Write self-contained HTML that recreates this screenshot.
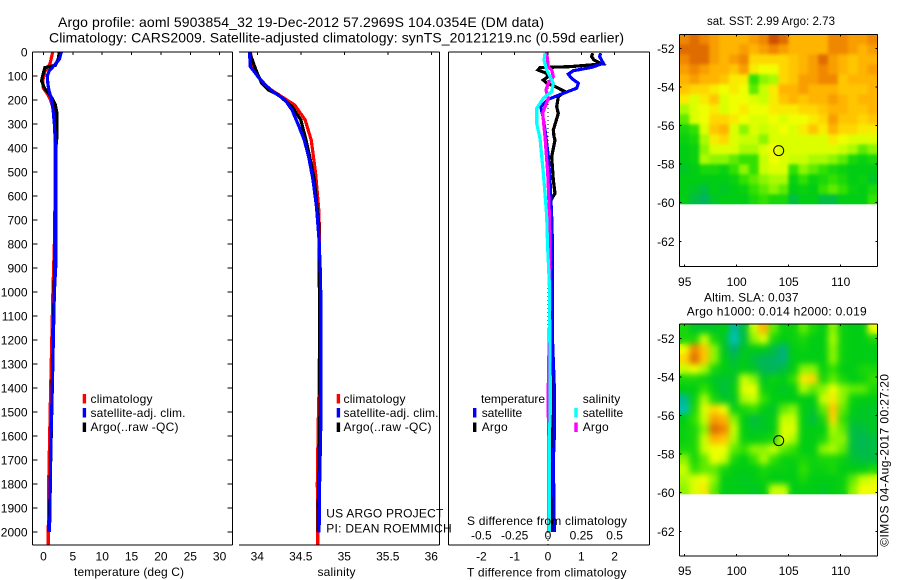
<!DOCTYPE html>
<html>
<head>
<meta charset="utf-8">
<title>Argo profile</title>
<style>
html,body{margin:0;padding:0;background:#fff;}
svg{display:block;font-family:"Liberation Sans",sans-serif;font-size:12px;fill:#000;}
.ax{stroke:#000;stroke-width:1;shape-rendering:crispEdges;fill:none;}
.ln{fill:none;stroke-width:3.2;stroke-linejoin:miter;shape-rendering:crispEdges;}
.t14{font-size:14px;}
</style>
</head>
<body>
<svg id="chart" xmlns="http://www.w3.org/2000/svg" width="900" height="580" viewBox="0 0 900 580">
<defs>
<filter id="softSst" x="0" y="0" width="100%" height="100%" color-interpolation-filters="sRGB"><feGaussianBlur in="SourceGraphic" stdDeviation="1.6" result="b"/><feMerge><feMergeNode in="SourceGraphic"/><feMergeNode in="b"/></feMerge></filter>
<filter id="softSla" x="0" y="0" width="100%" height="100%" color-interpolation-filters="sRGB"><feGaussianBlur in="SourceGraphic" stdDeviation="3.2" result="b"/><feMerge><feMergeNode in="SourceGraphic"/><feMergeNode in="b"/></feMerge></filter>
</defs>
<rect width="900" height="580" fill="#fff"/>
<text class="t14" x="58" y="27" textLength="486">Argo profile: aoml 5903854_32 19-Dec-2012 57.2969S 104.0354E (DM data)</text>
<text class="t14" x="49" y="42.5" textLength="575">Climatology: CARS2009. Satellite-adjusted climatology: synTS_20121219.nc (0.59d earlier)</text>

<g id="mapSst"></g>
<g id="mapSla"></g>
<g id="p1"></g>
<g id="p2"></g>
<g id="p3"></g>

<text x="74" y="576" textLength="110">temperature (deg C)</text>
<text x="317.5" y="576" textLength="38">salinity</text>
<text x="467" y="576.5" textLength="159.5">T difference from climatology</text>
<text x="467" y="525" textLength="160">S difference from climatology</text>

<g>
<rect x="82.7" y="394" width="3.4" height="9.5" fill="#f00"/>
<rect x="82.7" y="408" width="3.4" height="9.5" fill="#00f"/>
<rect x="82.7" y="422.5" width="3.4" height="9.5" fill="#000"/>
<text x="90.5" y="402.8" textLength="62">climatology</text>
<text x="90.5" y="417" textLength="95">satellite-adj. clim.</text>
<text x="90.5" y="431" textLength="88">Argo(..raw -QC)</text>
</g>
<g>
<rect x="336.7" y="394" width="3.4" height="9.5" fill="#f00"/>
<rect x="336.7" y="408" width="3.4" height="9.5" fill="#00f"/>
<rect x="336.7" y="422.5" width="3.4" height="9.5" fill="#000"/>
<text x="343.5" y="402.8" textLength="62">climatology</text>
<text x="343.5" y="417" textLength="95">satellite-adj. clim.</text>
<text x="343.5" y="431" textLength="88">Argo(..raw -QC)</text>
</g>
<text x="326.3" y="517.7" textLength="117">US ARGO PROJECT</text>
<text x="326.3" y="532.3" textLength="125.4">PI: DEAN ROEMMICH</text>
<g>
<text x="481" y="402.8" textLength="64">temperature</text>
<text x="582.7" y="402.8" textLength="37.5">salinity</text>
<rect x="473" y="408" width="3.4" height="9.5" fill="#00f"/>
<rect x="473" y="422.5" width="3.4" height="9.5" fill="#000"/>
<rect x="574.3" y="408" width="3.4" height="9.5" fill="#0ff"/>
<rect x="574.3" y="422.5" width="3.4" height="9.5" fill="#f0f"/>
<text x="481.7" y="417" textLength="40.5">satellite</text>
<text x="481.7" y="431" textLength="26">Argo</text>
<text x="582.7" y="417" textLength="40.5">satellite</text>
<text x="582.7" y="431" textLength="26">Argo</text>
</g>
<text x="707" y="25" textLength="128" font-size="11.5">sat. SST: 2.99 Argo: 2.73</text>
<text x="704" y="301.7" textLength="94.5">Altim. SLA: 0.037</text>
<text x="686.7" y="315.7" textLength="180">Argo h1000: 0.014 h2000: 0.019</text>
<text transform="translate(888.5,546.7) rotate(-90)" textLength="172.7">©IMOS 04-Aug-2017 00:27:20</text>
</svg>
<script>
// ---------- chart data ----------
const depthTicks = [0,100,200,300,400,500,600,700,800,900,1000,1100,1200,1300,1400,1500,1600,1700,1800,1900,2000];
const tempTicks = [0,5,10,15,20,25,30];
const salTicks = [34,34.5,35,35.5,36];
const salTickLabels = ['34','34.5','35','35.5','36'];
const tDiffTicks = [-2,-1,0,1,2];
const tDiffLabels = ['-2','-1','0','1','2'];
const sDiffTicks = [-0.5,-0.25,0,0.25,0.5];
const sDiffLabels = ['-0.5','-0.25','0','0.25','0.5'];
const lonTicks = [95,100,105,110];
const latTicks = [-52,-54,-56,-58,-60,-62];
const profileLon = 104.04;
const profileLat = -57.3;

const climTempDepth = [0,50,80,120,150,180,200,250,300,400,600,700,800,1000,1400,1600,1800,2000,2054];
const climTemp = [1.57,1.1,0.25,-0.14,-0.03,0.8,1.2,1.85,1.97,2.0,2.0,1.9,1.85,1.6,1.22,1.05,0.88,0.82,0.82];
const satTempDepth = [0,30,60,80,100,130,160,200,250,300,400,600,900,1000,1400,1600,1800,1920,2000];
const satTemp = [3.04,2.7,1.67,0.94,0.65,0.73,0.92,1.4,1.67,1.85,2.07,2.07,2.07,1.85,1.5,1.28,1.15,1.1,1.0];
const argoTempDepth = [0,30,55,60,65,90,120,150,170,190,220,250,350,400,610,700,850,1000,1500,1900,2000];
const argoTemp = [2.7,2.5,2.05,1.2,0.25,-0.05,-0.33,0.15,0.8,1.4,2.0,2.25,2.3,2.1,2.1,1.95,1.95,1.8,1.4,1.05,0.95];

const climSalDepth = [0,61,100,151,186,221,283,367,505,672,1033,1400,1550,1800,2054];
const climSal = [33.92,33.95,34.0,34.13,34.28,34.43,34.55,34.62,34.67,34.71,34.72,34.71,34.7,34.69,34.695];
const satSalDepth = [0,61,89,130,165,200,242,311,367,436,533,644,783,922,1033,1370,1547,1783,2003];
const satSal = [33.91,33.92,33.98,34.07,34.18,34.32,34.4,34.48,34.54,34.59,34.64,34.68,34.71,34.725,34.73,34.73,34.73,34.717,34.71];
const argoSalDepth = [0,61,89,130,158,178,228,283,367,433,533,728,1500,1900,2000];
const argoSal = [33.91,33.97,34.0,34.05,34.13,34.24,34.4,34.5,34.56,34.6,34.655,34.71,34.72,34.7,34.7];

const argoDtDepth = [5,19,33,50,61,65,75,89,103,117,130,144,165,186,228,256,325,353,367,436,533,589,617,700,1000,1550,1900,2000];
const argoDt = [1.34,1.31,1.38,1.61,0.66,-0.24,-0.3,-0.04,0,-0.14,-0.04,0.21,0.51,0.31,0.26,0.31,0.16,0.18,0.21,0.11,0.16,0.21,0.09,0.06,0.08,0.09,0.11,0.11];
const satDtDepth = [5,19,47,64,78,92,110,130,151,172,197,228,262,325,436,533,686,783,1180,1400,1600,1700,1800,2000];
const satDt = [1.58,1.55,1.66,1.31,0.76,0.61,0.71,0.91,0.86,0.46,0.01,-0.22,-0.16,-0.09,0.01,0.06,0.11,0.13,0.13,0.19,0.19,0.16,0.17,0.19];
const argoDsDepth = [0,61,75,103,130,158,193,255,353,505,630,800,1000,1400,1500,1600,2000];
const argoDs = [-0.01,0.002,0.028,0.04,0.002,-0.015,0.002,-0.04,-0.0225,-0.002,0.0075,0.015,0.015,0.002,0.002,0.005,0.005];
const satDsDepth = [5,33,75,130,165,193,235,297,360,505,644,686,811,964,1400,1500,1600,2000];
const satDs = [-0.0225,-0.03,-0.01,0.04,0.028,-0.035,-0.085,-0.085,-0.06,-0.035,-0.015,-0.01,-0.003,0.01,0.017,0.017,0.01,0.01];

// Heatmap colour levels, 20 columns x 17 rows, north to south
const sstLevels = [
[8,8.5,8,7.5,7,7,7,7.5,8,9,8.5,7,7,7,7,8,8,7.5,7.5,8],
[8.5,8.5,8.5,7.5,7,7,7.5,7,7.5,8,7.5,7,7,7,7,8,8,7.5,7,7.5],
[8,8.5,8.5,7.5,7,7.5,8,6,6,6,6,6.5,7,7.5,8.5,7.5,7,6.5,7,7],
[7.5,8,7.5,7,7,6.5,7.5,5.5,5,5,6,6.5,7,7.5,8,7.5,7,6.5,7,7.5],
[7,7.5,7,7,6.5,5.5,5.5,2,3,3.5,6,6.5,7.5,7.5,8,8,6.5,7,7,7],
[6.5,6,6,5.5,5,5.5,5,2.5,4,5.5,7,7,7.5,7,7,7,6.5,6.5,6.5,7],
[5.5,4.5,5.5,6.5,4.5,5,5,4.5,4,5.5,6.5,7,6.5,7,7,7.5,7,6.5,7,7],
[3.5,4.5,5,5.5,4.5,5,5.5,5,5,5.5,5.5,5.5,6,6,6.5,7,7,6.5,6.5,7],
[2.5,4.5,5,6,6,5.5,5,4.5,4.5,5,4.5,5,5,5.5,6,7.5,6.5,6.5,6,6.5],
[1.5,2,4.5,6.5,7,4.5,3,4.5,4,4.5,5,4.5,5.5,6.5,5.5,7,6,6,5.5,5.5],
[1.2,1.5,3.5,5.5,6,4.5,4,4,3,4.5,4.5,4.5,4.5,4.5,4.5,5.5,5,4.5,4.5,4.5],
[1,1.2,3,4.5,4.5,4.5,3.5,3.5,4.5,5,4.5,4.5,4.5,4.5,4.5,4.5,4,3.5,2.5,3],
[1,1.2,3.5,3,3,2.5,2,2,4,5,4.5,4,4,3.5,3.5,3,2.5,1.5,1.2,1.5],
[0.8,1,1.5,1.5,1.2,2,3,2,4,4.5,4.5,2,3,2.5,2,1.5,1.2,1,1,1],
[1,1,1,1,1,1.2,2,2.5,3,3.5,3.5,1.2,2,1.2,1.5,2,1.5,1,1.2,0.8],
[1,0.8,0.5,1,0.8,1,1.2,2,2.5,3,2.5,1,1.2,1,2,2.5,2,1.2,1,1.5],
[1,0.5,0.2,0.8,1,1,1,1.5,2,1.5,1.5,0.5,1,1,0.5,0.5,1,1,1,2]
];
const slaLevels = [
[1.5,0.8,0.8,0.8,1,-0.4,0.5,4,7,2.5,1.2,1.2,2.5,1.5,1,3,1.2,1,1,5],
[1.5,1.5,4,1.5,0.8,-0.7,0.5,3,4.5,1.5,1,1.2,1.5,1,1,3.5,1.2,1,1,1.5],
[5,8,6.5,3,0.8,0,0.8,1,1,0.5,-0.1,1,1.2,1,1,3,1.2,1,1,1],
[6,8.5,6.5,3,1,0.5,1,0.5,0.2,0.2,-0.1,1,1,1,1,3,1.2,1,1,1],
[4,5,3.5,1.5,1,0.8,1,0.8,0.3,0.2,0.5,1,3,3,1.2,2,1,1,1.5,1.5],
[1.5,1.5,1.2,0.8,0.7,0.8,4,3,0.8,1.2,1,2,5.5,6,1.5,2.5,1.5,1,1.2,2],
[1,1,2,1,0.5,1,4.5,5,1.2,1,0.8,1,3.5,2.5,3,5,3,2.5,2.5,1.5],
[-0.3,1.2,3.5,1.5,0.8,0.8,3.5,4,2,1,1,1,1,1,4,5.5,3,1.2,1,1],
[-0.6,1.5,4.5,6,5,1.2,1.5,2,1,0.8,2.5,3,1,0.8,2.5,6.5,2.5,1,0.8,0.8],
[1,2,4,7.5,7,3,1,0.5,0.8,1,4,4,1,0.5,1.5,6,2,0.8,0.8,0.8],
[1.2,1.5,3,8.5,8,4,1,0.8,0.8,1,4.5,4.5,1,1,1,3.5,2.5,0.5,0.5,0.8],
[1.2,1.5,4,7,6.5,3.5,1.2,1,1.2,1.5,4.5,3.5,1,1,1.5,3,3,0.5,0.3,0.5],
[1.5,1.5,4,5,5,2.5,2,3,3,4,2.5,2,1,1,3,3.5,2.5,0.5,0.3,0.5],
[3,1.5,2.5,5,4,1.5,1,2,3.5,2,1.2,1.2,1.5,1.2,1.5,1.5,1.2,0.7,0.5,0.5],
[4,2,2.5,2.5,1.5,1,1,1,1.5,1.2,1.2,1,2,1.2,1.2,1.5,1,1,1,1.5],
[3.5,4.5,5,3,1,1,0.8,1,1.2,1,1,1,1.5,1,1,1,1.2,2.5,4,4.5],
[3,4.5,5.5,2.5,1,1,1,0.8,1,4,4,1,1,1,0.8,1,1.2,3,5,5]
];

// ---------- axis functions ----------
const NS = 'http://www.w3.org/2000/svg';
function depthY(d){ return 52 + d * 0.24; }
function tempX(t){ return 43.5 + t * 5.87; }
function salX(s){ return 257.3 + (s - 34) * 87; }
function dtX(t){ return 548 + t * 33.3; }
function dsX(s){ return 548 + s * 133.3; }

function make(parent, tag, attrs){
  const el = document.createElementNS(NS, tag);
  for (const k in attrs) el.setAttribute(k, attrs[k]);
  parent.appendChild(el);
  return el;
}
function axisLine(parent, x1, y1, x2, y2){
  const el = make(parent, 'line', {x1: x1, y1: y1, x2: x2, y2: y2, class: 'ax'});
  
  
  return el;
}
function tick(parent, x1, y1, x2, y2){
  const el = make(parent, 'line', {x1: x1, y1: y1, x2: x2, y2: y2, class: 'ax'});
  
  
  return el;
}
function label(parent, x, y, s, anchor){
  const el = make(parent, 'text', {x: x, y: y, 'text-anchor': anchor});
  el.textContent = s;
  
  
  return el;
}
function series(parent, depths, values, xf, color, name){
  const pts = depths.map(function(d, i){ return xf(values[i]).toFixed(2) + ',' + depthY(d).toFixed(2); }).join(' ');
  const el = make(parent, 'polyline', {points: pts, class: 'ln', stroke: color});
  
  
  return el;
}

// ---------- temperature panel ----------
const p1 = document.getElementById('p1');
series(p1, climTempDepth, climTemp, tempX, '#f00', 'temperature-climatology-line');
series(p1, argoTempDepth, argoTemp, tempX, '#000', 'temperature-argo-line');
series(p1, satTempDepth, satTemp, tempX, '#00f', 'temperature-satellite-line');
axisLine(p1, 32.5, 52, 232.5, 52);
axisLine(p1, 32.5, 545, 232.5, 545);
axisLine(p1, 32.5, 52, 32.5, 545);
axisLine(p1, 232.5, 52, 232.5, 545);
depthTicks.forEach(function(d){
  tick(p1, 32.5, depthY(d), 37.5, depthY(d));
  tick(p1, 227.5, depthY(d), 232.5, depthY(d));
  label(p1, 27.5, depthY(d) + 4.5, String(d), 'end');
});
tempTicks.forEach(function(t){
  tick(p1, tempX(t), 52, tempX(t), 55);
  label(p1, tempX(t), 560.5, String(t), 'middle');
});

// ---------- salinity panel ----------
const p2 = document.getElementById('p2');
series(p2, climSalDepth, climSal, salX, '#f00', 'salinity-climatology-line');
series(p2, argoSalDepth, argoSal, salX, '#000', 'salinity-argo-line');
series(p2, satSalDepth, satSal, salX, '#00f', 'salinity-satellite-line');
axisLine(p2, 239, 52, 439.5, 52);
axisLine(p2, 239, 545, 439.5, 545);
axisLine(p2, 439.5, 52, 439.5, 545);
salTicks.forEach(function(s, i){
  tick(p2, salX(s), 52, salX(s), 55);
  label(p2, salX(s), 560.5, salTickLabels[i], 'middle');
});

// ---------- difference panel ----------
const p3 = document.getElementById('p3');
const zero = make(p3, 'line', {x1: dtX(0), y1: 52, x2: dtX(0), y2: 545, stroke: '#000', 'stroke-width': 1, 'stroke-dasharray': '1 3', 'shape-rendering': 'crispEdges'});


series(p3, argoDtDepth, argoDt, dtX, '#000', 'delta-t-argo-line');
series(p3, satDtDepth, satDt, dtX, '#00f', 'delta-t-satellite-line');
series(p3, argoDsDepth, argoDs, dsX, '#f0f', 'delta-s-argo-line');
series(p3, satDsDepth, satDs, dsX, '#0ff', 'delta-s-satellite-line');
axisLine(p3, 448.5, 52, 649.5, 52);
axisLine(p3, 448.5, 545, 649.5, 545);
axisLine(p3, 448.5, 52, 448.5, 545);
axisLine(p3, 649.5, 52, 649.5, 545);
tDiffTicks.forEach(function(t, i){
  tick(p3, dtX(t), 52, dtX(t), 55);
  label(p3, dtX(t), 560.5, tDiffLabels[i], 'middle');
});
sDiffTicks.forEach(function(s, i){
  label(p3, dsX(s), 539.3, sDiffLabels[i], 'middle');
});

// ---------- maps ----------
const levelColors = [[0,200,225],[0,175,110],[0,205,20],[50,225,0],[140,245,0],[200,255,0],[240,255,0],[255,215,0],[255,180,0],[240,135,0],[205,80,0]];
function levelColor(v){
  const p = Math.max(0, Math.min(levelColors.length - 1.001, v + 1));
  const i = Math.floor(p), f = p - i, a = levelColors[i], b = levelColors[i + 1];
  return 'rgb(' + [0,1,2].map(function(k){ return Math.round(a[k] + (b[k] - a[k]) * f); }).join(',') + ')';
}
function lonX(lon){ return 684.7 + (lon - 95) * 10.4; }
function latOffset(lat){ return (-52 - lat) * 19.3; }
function drawMap(group, levels, top, bottom, lat52Y, dataBottom, lonLabelY, filterId){
  const left = 679.5, right = 877.5;
  const cw = (right - left) / levels[0].length;
  const ch = (dataBottom - top) / levels.length;
  const cells = make(group, 'g', {filter: 'url(#' + filterId + ')'});
  
  
  levels.forEach(function(row, r){
    row.forEach(function(v, c){
      const cell = make(cells, 'rect', {x: left + c * cw, y: top + r * ch, width: cw + 0.5, height: ch + 0.5, fill: levelColor(v)});
      
      
    });
  });
  const blank = make(group, 'rect', {x: left, y: dataBottom, width: right - left, height: bottom - dataBottom, fill: '#fff'});
  
  
  axisLine(group, left, top, right, top);
  axisLine(group, left, bottom, right, bottom);
  axisLine(group, left, top, left, bottom);
  axisLine(group, right, top, right, bottom);
  lonTicks.forEach(function(lon){
    tick(group, lonX(lon), top, lonX(lon), top + 2);
    tick(group, lonX(lon), bottom - 2, lonX(lon), bottom);
    label(group, lonX(lon), lonLabelY, String(lon), 'middle');
  });
  latTicks.forEach(function(lat){
    const y = lat52Y + latOffset(lat);
    tick(group, left, y, left + 2, y);
    tick(group, right - 2, y, right, y);
    label(group, 674.5, y + 4.5, String(lat), 'end');
  });
  const marker = make(group, 'circle', {cx: lonX(profileLon), cy: lat52Y + latOffset(profileLat), r: 5, fill: 'none', stroke: '#000', 'stroke-width': 1});
  
  
}
drawMap(document.getElementById('mapSst'), sstLevels, 34.3, 266.7, 48.3, 204.3, 286, 'softSst');
drawMap(document.getElementById('mapSla'), slaLevels, 324, 556, 338.3, 494.3, 575, 'softSla');
</script>
</body>
</html>
